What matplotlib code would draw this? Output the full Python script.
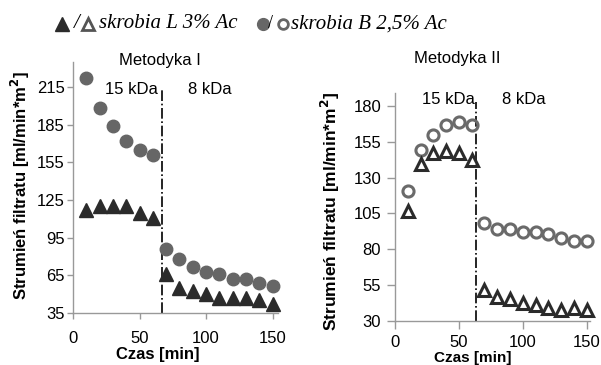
import matplotlib
matplotlib.use("Agg")
import matplotlib.pyplot as plt
from matplotlib.lines import Line2D

plt.rcParams['font.family'] = ['Liberation Sans', 'DejaVu Sans']

# ---- data ----
time = [10, 20, 30, 40, 50, 60, 70, 80, 90, 100, 110, 120, 130, 140, 150]
m1_L = [117, 120, 120, 120, 114.5, 111, 66, 55, 52.5, 50.5, 47, 47, 47, 45, 42.5]
m1_B = [222, 198, 184, 172, 164.5, 160.5, 86, 78, 72, 68, 66, 62, 62, 59, 56.5]
m2_L = [107, 139.5, 147, 148.5, 147, 142.5, 51.5, 47, 45, 42.5, 41, 39, 37.5, 39, 37.5]
m2_B = [120.5, 149, 160, 167, 169, 167, 98, 94, 94, 92, 92, 90.5, 88, 86, 86]
switch = [67, 63]
yticks1 = [35, 65, 95, 125, 155, 185, 215]
yticks2 = [30, 55, 80, 105, 130, 155, 180]
xticks = [0, 50, 100, 150]

W, H = 601, 365
fig = plt.figure(figsize=(W / 100, H / 100), dpi=100)

def fx(px):
    return px / W

def fy(py):
    return 1 - py / H

dark = '#2b2b2b'
gray = '#666666'
spine = '#999999'

def style(ax, ticklen):
    for s in ['top', 'right']:
        ax.spines[s].set_visible(False)
    for s in ['left', 'bottom']:
        ax.spines[s].set_color(spine)
        ax.spines[s].set_linewidth(1.0)
    ax.tick_params(axis='both', colors=spine, labelcolor='black', labelsize=12, length=ticklen, width=1)

# ---- left axes ----
ax1 = fig.add_axes([fx(73), fy(313), fx(278) - fx(73), fy(62) - fy(313)])
ax1.plot(time, m1_B, 'o', ms=9, color=gray, mec=gray, clip_on=False, zorder=3)
ax1.plot(time, m1_L, '^', ms=9.5, color=dark, mec=dark, clip_on=False, zorder=3)
ax1.set_xlim(0, 154)
ax1.set_ylim(35, 235)
ax1.set_yticks(yticks1)
ax1.set_xticks(xticks)
style(ax1, 4)
ax1.plot([switch[0], switch[0]], [35, 214], color='black', lw=1.2, ls='-.', zorder=2)
ax1.tick_params(axis='x', pad=9)
ax1.tick_params(axis='y', pad=2)

# ---- right axes ----
ax2 = fig.add_axes([fx(395), fy(321), fx(590) - fx(395), fy(93) - fy(321)])
ax2.plot(time, m2_B, 'o', ms=8, mfc='none', mec='#6a6a6a', mew=2.2, clip_on=False, zorder=3)
ax2.plot(time, m2_L, '^', ms=8.5, mfc='none', mec=dark, mew=2.2, clip_on=False, zorder=3)
ax2.set_xlim(0, 152.6)
ax2.set_ylim(30, 189)
ax2.set_yticks(yticks2)
ax2.set_xticks(xticks)
style(ax2, 6)
ax2.plot([switch[1], switch[1]], [30, 183], color='black', lw=1.2, ls='-.', zorder=2)
ax2.tick_params(axis='x', pad=4)
ax2.tick_params(axis='y', pad=4)

# ---- labels ----
ylab = 'Strumień filtratu [ml/min*m$^\\mathbf{2}$]'
fig.text(fx(20), fy(186), ylab, rotation=90, ha='center', va='center', fontsize=12, fontweight='bold')
fig.text(fx(330), fy(211), ylab, rotation=90, ha='center', va='center', fontsize=12.5, fontweight='bold')
fig.text(fx(158), fy(354), 'Czas [min]', ha='center', va='center', fontsize=12, fontweight='bold')
fig.text(fx(473), fy(358), 'Czas [min]', ha='center', va='center', fontsize=11, fontweight='bold')

fig.text(fx(160), fy(61), 'Metodyka I', ha='center', va='center', fontsize=12)
fig.text(fx(457), fy(59), 'Metodyka II', ha='center', va='center', fontsize=12)

fig.text(fx(131), fy(89), '15 kDa', ha='center', va='center', fontsize=12)
fig.text(fx(210), fy(89), '8 kDa', ha='center', va='center', fontsize=12)
fig.text(fx(448), fy(99), '15 kDa', ha='center', va='center', fontsize=12)
fig.text(fx(524), fy(99), '8 kDa', ha='center', va='center', fontsize=12)

# ---- top legend ----
ly = fy(24)
fig.add_artist(Line2D([fx(61.5)], [ly], marker='^', ms=10, color=dark, mec=dark, transform=fig.transFigure))
fig.text(fx(74), ly, '/', ha='left', va='center', fontsize=15, family='Liberation Serif', style='italic')
fig.add_artist(Line2D([fx(87.5)], [ly], marker='^', ms=9, mfc='none', mec='#555555', mew=2, transform=fig.transFigure))
fig.text(fx(99), ly, 'skrobia L 3% Ac', ha='left', va='center', fontsize=15, family='Liberation Serif', style='italic')
fig.add_artist(Line2D([fx(263)], [ly], marker='o', ms=8.5, color=gray, mec=gray, transform=fig.transFigure))
fig.text(fx(268.5), ly, '/', ha='left', va='center', fontsize=13, family='Liberation Serif')
fig.add_artist(Line2D([fx(283)], [ly], marker='o', ms=7, mfc='none', mec=gray, mew=2, transform=fig.transFigure))
fig.text(fx(291), ly, 'skrobia B 2,5% Ac', ha='left', va='center', fontsize=15, family='Liberation Serif', style='italic')

fig.savefig('out.png', dpi=100)
